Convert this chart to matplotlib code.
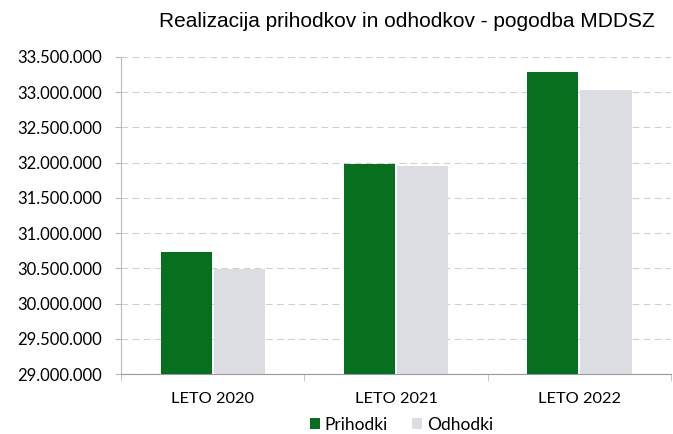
import matplotlib.pyplot as plt
import numpy as np
from matplotlib.ticker import FuncFormatter

categories = ['LETO 2020', 'LETO 2021', 'LETO 2022']
prihodki = [30730000, 31985000, 33280000]
odhodki = [30495000, 31945000, 33030000]

fig = plt.figure(figsize=(6.73, 4.34), dpi=100)
ax = fig.add_axes([0.18, 0.138, 0.817, 0.731])

x = np.arange(len(categories))
w = 0.28
ax.bar(x - 0.145, prihodki, w, color='#07701f', label='Prihodki', zorder=3)
ax.bar(x + 0.145, odhodki, w, color='#dcdde2', label='Odhodki', zorder=3)

ax.set_ylim(29000000, 33500000)
ax.set_xlim(-0.5, 2.5)
ax.set_yticks(np.arange(29000000, 33500001, 500000))
ax.yaxis.set_major_formatter(FuncFormatter(lambda v, p: f'{int(v):,}'.replace(',', '.')))
ax.yaxis.grid(True, linestyle=(0, (6, 4)), color='#d0d0d0', linewidth=0.8, zorder=0)

ax.set_xticks(x)
ax.set_xticklabels(categories)
ax.set_xticks([-0.5, 0.5, 1.5, 2.5], minor=True)
ax.tick_params(axis='x', which='major', length=0, pad=13, labelsize=11.8)
ax.tick_params(axis='x', which='minor', length=5, color='#bbbbbb')
ax.tick_params(axis='y', length=4, color='#bbbbbb', labelsize=12, pad=10)
for lab in ax.get_xticklabels() + ax.get_yticklabels():
    lab.set_family('Lato')

for s in ['top', 'right']:
    ax.spines[s].set_visible(False)
ax.spines['left'].set_color('#bbbbbb')
ax.spines['bottom'].set_color('#999999')

fig.text(0.973, 0.95, 'Realizacija prihodkov in odhodkov - pogodba MDDSZ',
         ha='right', va='center', fontsize=15, family='Liberation Sans')

ax.legend(loc='center', bbox_to_anchor=(0.51, -0.16), ncol=2, frameon=False,
          prop={'family': 'Lato', 'size': 12.5}, handlelength=0.55, handleheight=0.55,
          handletextpad=0.3, columnspacing=1.4, borderpad=0.1)

fig.savefig('out.png', dpi=100)
